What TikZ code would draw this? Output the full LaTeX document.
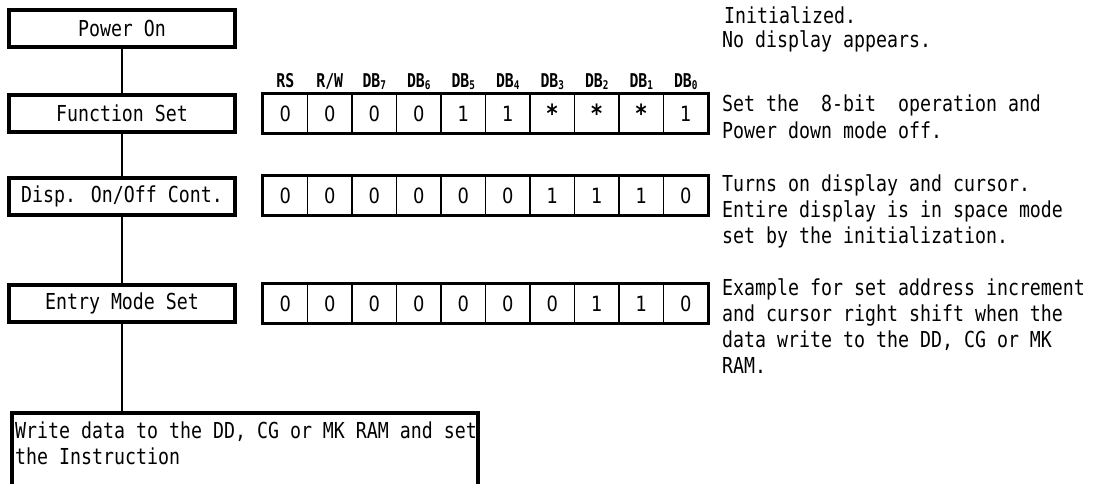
\documentclass[tikz,border=0pt]{standalone}
\usepackage{fontspec}
\newfontfamily\gfont[FakeStretch=0.83]{DejaVu Sans Mono}
\newfontfamily\hfont[FakeStretch=0.78]{DejaVu Sans Mono}
\newfontfamily\cfont[FakeStretch=0.85]{DejaVu Sans}
\newcommand{\sbx}[1]{\raisebox{-2.5pt}{\fontsize{12}{12}\selectfont #1}}
\newcommand{\st}{\raisebox{-5.5pt}{\fontsize{25}{25}\selectfont\bfseries *}}
\begin{document}
\begin{tikzpicture}[x=1pt,y=-1pt,
  txt/.style={font=\gfont\fontsize{22}{26}\selectfont},
  stepbox/.style={draw, line width=4pt, minimum width=226pt, minimum height=37pt, inner sep=0pt, txt},
  cell/.style={draw, line width=1.3pt, minimum width=44.5pt, minimum height=39pt, inner sep=0pt, font=\cfont\fontsize{21}{21}\selectfont},
  hdr/.style={font=\hfont\bfseries\fontsize{19}{19}\selectfont, anchor=base},
  note/.style={txt, anchor=base west, inner sep=0pt},
  conn/.style={line width=1.6pt}]
\useasboundingbox (0,0) rectangle (1117,483);

% left flow boxes
\node[stepbox] (p) at (122,28) {Power On};
\node[stepbox] (f) at (122,113.5) {Function Set};
\node[stepbox] (d) at (122,196) {Disp. On/Off Cont.};
\node[stepbox] (e) at (122,303.5) {Entry Mode Set};
\node[draw, line width=4pt, anchor=north west, minimum width=466pt, minimum height=73pt,
      inner sep=0pt] (w) at (10,411) {};
\node[note] (w1) at (15,438) {Write data to the DD, CG or MK RAM and set};
\node[note] (w2) at (15,464) {the Instruction};

\draw[conn] (p.south) -- (f.north);
\draw[conn] (f.south) -- (d.north);
\draw[conn] (d.south) -- (e.north);
\draw[conn] (e.south) -- (e.south |- w.north);

% header labels
\foreach \t [count=\k from 0] in {RS,R/W,DB\sbx{7},DB\sbx{6},DB\sbx{5},DB\sbx{4},DB\sbx{3},DB\sbx{2},DB\sbx{1},DB\sbx{0}}
  \node[hdr] (h\k) at ({263+44.5*(\k+0.5)},87) {\t};

% bit rows
\foreach \r/\yy/\bits in {1/113.5/{0,0,0,0,1,1,\st,\st,\st,1},
                          2/195.5/{0,0,0,0,0,0,1,1,1,0},
                          3/303.5/{0,0,0,0,0,0,0,1,1,0}}{
  \foreach \b [count=\k from 0] in \bits
    \node[cell] (c\r-\k) at ({263+44.5*(\k+0.5)},\yy) {\b};
  \draw[line width=3.5pt] (c\r-0.north west) rectangle (c\r-9.south east);
}

% notes, one node per printed line
\node[note] (n0a) at (724,23) {Initialized.};
\node[note] (n0b) at (722,47) {No display appears.};
\node[note] (n1a) at (722,111) {Set the\ \ 8-bit\ \ operation and};
\node[note] (n1b) at (722,138) {Power down mode off.};
\node[note] (n2a) at (722,191) {Turns on display and cursor.};
\node[note] (n2b) at (722,217) {Entire display is in space mode};
\node[note] (n2c) at (722,243) {set by the initialization.};
\node[note] (n3a) at (722,295) {Example for set address increment};
\node[note] (n3b) at (722,321) {and cursor right shift when the};
\node[note] (n3c) at (722,347) {data write to the DD, CG or MK};
\node[note] (n3d) at (722,373) {RAM.};
\end{tikzpicture}
\end{document}
